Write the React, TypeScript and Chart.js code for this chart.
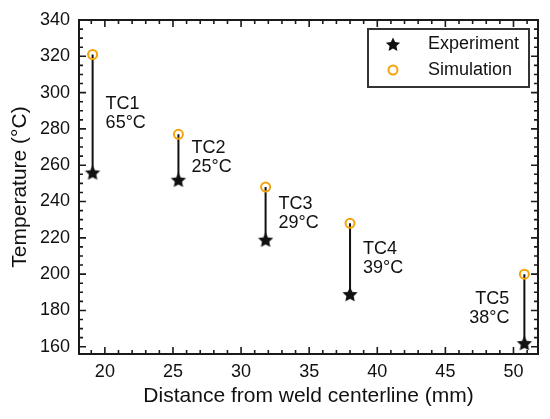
import React, { useEffect, useRef } from 'react';
import { Chart, registerables } from 'chart.js';
import type { Plugin } from 'chart.js';

Chart.register(...registerables);

// thermocouple readings vs. simulation
const sensors = ['TC1', 'TC2', 'TC3', 'TC4', 'TC5'];
const distance = [19.1, 25.4, 31.8, 38.0, 50.8]; // mm from weld centerline
const experiment = [256, 252, 219, 189, 162]; // °C
const simulation = [321, 277, 248, 228, 200]; // °C

const FONT = '"Liberation Sans", Arial, Helvetica, sans-serif';
const INK = '#111111';
const FRAME = '#1a1a1a';
const ORANGE = '#f5a30a';

function starPath(ctx: CanvasRenderingContext2D, cx: number, cy: number, r: number) {
    const inner = r * 0.48;
    ctx.beginPath();
    for (let i = 0; i < 10; i++) {
        const rad = i % 2 === 0 ? r : inner;
        const a = -Math.PI / 2 + (i * Math.PI) / 5;
        const px = cx + rad * Math.cos(a);
        const py = cy + rad * Math.sin(a);
        if (i === 0) ctx.moveTo(px, py);
        else ctx.lineTo(px, py);
    }
    ctx.closePath();
}

function makeStar(r: number) {
    const c = document.createElement('canvas');
    const s = Math.ceil(r * 2 + 2);
    c.width = s;
    c.height = s;
    const g = c.getContext('2d');
    if (g) {
        // nudge down a little so the star looks centred on the point
        starPath(g, s / 2, s / 2 + r * 0.1, r);
        g.fillStyle = INK;
        g.fill();
    }
    return c;
}

// inward ticks on all four sides + frame
const framePlugin: Plugin = {
    id: 'frame',
    afterDraw(chart) {
        const { ctx, chartArea: a } = chart;
        const xs = chart.scales.x;
        const ys = chart.scales.y;
        ctx.save();
        ctx.strokeStyle = FRAME;
        ctx.lineWidth = 1.6;
        ctx.beginPath();
        xs.ticks.forEach((t) => {
            const v = t.value;
            if (Math.abs(v - Math.round(v)) > 1e-6) return;
            const len = Math.round(v) % 5 === 0 ? 7 : 4;
            const px = xs.getPixelForValue(v);
            ctx.moveTo(px, a.bottom);
            ctx.lineTo(px, a.bottom - len);
            ctx.moveTo(px, a.top);
            ctx.lineTo(px, a.top + len);
        });
        ys.ticks.forEach((t) => {
            const v = t.value;
            if (Math.abs(v / 5 - Math.round(v / 5)) > 1e-6) return;
            const len = Math.round(v) % 20 === 0 ? 7 : 4;
            const py = ys.getPixelForValue(v);
            ctx.moveTo(a.left, py);
            ctx.lineTo(a.left + len, py);
            ctx.moveTo(a.right, py);
            ctx.lineTo(a.right - len, py);
        });
        ctx.stroke();
        ctx.lineWidth = 2;
        ctx.strokeRect(a.left, a.top, a.right - a.left, a.bottom - a.top);
        ctx.restore();
    },
};

// "TCn / diff°C" labels next to each pair
const labelPlugin: Plugin = {
    id: 'pairLabels',
    afterDatasetsDraw(chart) {
        const { ctx, chartArea: a } = chart;
        const xs = chart.scales.x;
        const ys = chart.scales.y;
        ctx.save();
        ctx.font = `18px ${FONT}`;
        ctx.fillStyle = INK;
        ctx.textBaseline = 'middle';
        sensors.forEach((name, i) => {
            const px = xs.getPixelForValue(distance[i]);
            const mid = (ys.getPixelForValue(simulation[i]) + ys.getPixelForValue(experiment[i])) / 2;
            const diff = `${simulation[i] - experiment[i]}°C`;
            const nearRight = px > a.right - 80;
            ctx.textAlign = nearRight ? 'right' : 'left';
            const tx = nearRight ? px - 15 : px + 13;
            ctx.fillText(name, tx, mid - 9.5);
            ctx.fillText(diff, tx, mid + 9.5);
        });
        ctx.restore();
    },
};

// boxed legend in the top-right corner
const legendPlugin: Plugin = {
    id: 'boxLegend',
    afterDraw(chart) {
        const { ctx, chartArea: a } = chart;
        const w = 161;
        const h = 58;
        const left = a.right - 9 - w;
        const top = a.top + 9;
        ctx.save();
        ctx.strokeStyle = '#333333';
        ctx.lineWidth = 2;
        ctx.strokeRect(left, top, w, h);

        const mx = left + 25;
        starPath(ctx, mx, top + 16, 7.5);
        ctx.fillStyle = INK;
        ctx.fill();

        ctx.beginPath();
        ctx.arc(mx, top + 41, 4.5, 0, Math.PI * 2);
        ctx.strokeStyle = ORANGE;
        ctx.lineWidth = 2;
        ctx.stroke();

        ctx.font = `18px ${FONT}`;
        ctx.fillStyle = INK;
        ctx.textAlign = 'left';
        ctx.textBaseline = 'middle';
        ctx.fillText('Experiment', left + 60, top + 15);
        ctx.fillText('Simulation', left + 60, top + 41);
        ctx.restore();
    },
};

export default function App() {
    const canvasRef = useRef<HTMLCanvasElement>(null);
    const chartRef = useRef<Chart | null>(null);

    useEffect(() => {
        if (!canvasRef.current) return;
        if (chartRef.current) chartRef.current.destroy();

        const star = makeStar(8);
        const connectors: { x: number; y: number | null }[] = [];
        distance.forEach((d, i) => {
            connectors.push({ x: d, y: simulation[i] });
            connectors.push({ x: d, y: experiment[i] });
            connectors.push({ x: d, y: null });
        });

        chartRef.current = new Chart(canvasRef.current, {
            type: 'scatter',
            data: {
                datasets: [
                    {
                        label: 'Experiment',
                        data: distance.map((d, i) => ({ x: d, y: experiment[i] })),
                        pointStyle: star,
                        pointRadius: 8,
                    },
                    {
                        label: 'Simulation',
                        data: distance.map((d, i) => ({ x: d, y: simulation[i] })),
                        pointStyle: 'circle',
                        pointRadius: 4.5,
                        borderWidth: 2,
                        borderColor: ORANGE,
                        backgroundColor: 'rgba(0,0,0,0)',
                    },
                    {
                        type: 'line',
                        label: 'gap',
                        data: connectors as any,
                        showLine: true,
                        spanGaps: false,
                        borderColor: INK,
                        borderWidth: 2,
                        pointRadius: 0,
                    },
                ],
            },
            options: {
                responsive: false,
                animation: false,
                events: [],
                layout: { padding: { left: 0, right: 12, top: 20, bottom: 0 } },
                plugins: {
                    legend: { display: false },
                    tooltip: { enabled: false },
                },
                scales: {
                    x: {
                        type: 'linear',
                        min: 18.1,
                        max: 51.8,
                        afterFit: (s) => { s.height = 65; },
                        grid: { display: false, drawTicks: false },
                        border: { display: false },
                        ticks: {
                            stepSize: 1,
                            includeBounds: false,
                            autoSkip: false,
                            maxRotation: 0,
                            padding: 7,
                            color: INK,
                            font: { family: FONT, size: 18 },
                            callback: (v) => {
                                const n = Number(v);
                                return Math.abs(n - Math.round(n)) < 1e-6 && Math.round(n) % 5 === 0 ? String(Math.round(n)) : '';
                            },
                        },
                        title: {
                            display: true,
                            text: 'Distance from weld centerline (mm)',
                            color: INK,
                            font: { family: FONT, size: 21 },
                            padding: { top: 0, bottom: 10 },
                        },
                    },
                    y: {
                        min: 156,
                        max: 340,
                        afterFit: (s) => { s.width = 79; },
                        grid: { display: false, drawTicks: false },
                        border: { display: false },
                        ticks: {
                            stepSize: 5,
                            includeBounds: false,
                            autoSkip: false,
                            padding: 9,
                            color: INK,
                            font: { family: FONT, size: 18 },
                            callback: (v) => {
                                const n = Number(v);
                                return Math.round(n) === n && n % 20 === 0 ? String(n) : '';
                            },
                        },
                        title: {
                            display: true,
                            text: 'Temperature (°C)',
                            color: INK,
                            font: { family: FONT, size: 21 },
                            padding: { top: 8, bottom: 0 },
                        },
                    },
                },
            },
            plugins: [labelPlugin, framePlugin, legendPlugin],
        });

        return () => {
            if (chartRef.current) {
                chartRef.current.destroy();
                chartRef.current = null;
            }
        };
    }, []);

    return (
        <div style={{ position: 'absolute', left: 0, top: 0, width: 550, height: 419, background: '#fff' }}>
            <canvas ref={canvasRef} width={550} height={419}></canvas>
        </div>
    );
}
